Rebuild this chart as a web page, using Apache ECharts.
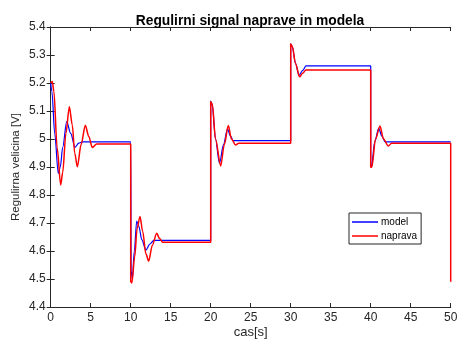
<!DOCTYPE html>
<html>
<head>
<meta charset="utf-8">
<script src="https://cdn.jsdelivr.net/npm/echarts@6/dist/echarts.min.js"></script>
<style>
  html, body { margin: 0; padding: 0; background: #fff; }
  #chart { width: 457px; height: 340px; }
</style>
</head>
<body>
<div id="chart"></div>
<script>
// casovne tocke in vrednosti - model
const modelTime = [
  0, 0.15, 0.5, 0.95, 1.2, 1.5, 2.0, 2.5, 3.04, 3.5, 4.0, 10.0,
  10.0, 10.05, 10.2, 10.45, 10.75, 11.0, 11.4, 11.9, 12.4, 12.9, 20.0,
  20.0, 20.2, 20.6, 21.1, 21.6, 22.1, 22.5, 22.8, 30.0,
  30.0, 30.2, 30.6, 31.05, 31.5, 31.9, 40.0,
  40.0, 40.1, 40.5, 41.0, 41.4, 41.8, 50.0
];
const modelValue = [
  5.20, 5.17, 5.02, 4.877, 4.90, 4.97, 5.062, 5.02, 4.970, 4.985, 4.990, 4.990,
  4.990, 4.53, 4.500, 4.60, 4.707, 4.69, 4.64, 4.603, 4.625, 4.638, 4.638,
  5.135, 5.12, 5.00, 4.913, 4.98, 5.035, 5.01, 4.994, 4.994,
  5.340, 5.33, 5.27, 5.228, 5.245, 5.261, 5.261,
  4.906, 4.90, 4.99, 5.038, 5.01, 4.990, 4.990
];

// casovne tocke in vrednosti - naprava
const napravaTime = [
  0, 0.2, 0.4, 0.8, 1.25, 1.5, 1.9, 2.33, 2.7, 3.0, 3.33, 3.8, 4.33, 4.75, 5.2, 5.75, 10.0,
  10.0, 10.15, 10.5, 10.8, 11.16, 11.5, 11.9, 12.25, 12.7, 13.25, 13.6, 14.0, 20.0,
  20.0, 20.2, 20.6, 21.25, 21.7, 22.2, 22.6, 23.1, 23.5, 30.0,
  30.0, 30.2, 30.6, 31.1, 31.5, 31.9, 40.0,
  40.0, 40.15, 40.6, 41.16, 41.6, 42.2, 42.6, 50.0, 50.0
];
const napravaValue = [
  5.20, 5.205, 5.17, 4.97, 4.836, 4.88, 5.02, 5.115, 5.05, 4.95, 4.901, 4.98, 5.049, 5.01, 4.970, 4.982, 4.982,
  4.490, 4.486, 4.58, 4.68, 4.723, 4.67, 4.59, 4.564, 4.62, 4.663, 4.645, 4.631, 4.631,
  5.133, 5.125, 5.00, 4.904, 4.98, 5.048, 5.00, 4.979, 4.985, 4.985,
  5.339, 5.33, 5.27, 5.222, 5.235, 5.246, 5.246,
  4.899, 4.90, 5.00, 5.046, 5.00, 4.975, 4.985, 4.985, 4.49
];

const xTicks = { min: 0, max: 50, interval: 5 };
const yTicks = { min: 4.4, max: 5.4, interval: 0.1 };

const pairs = (t, v) => t.map((x, i) => [x, v[i]]);

const axisColor = '#262626';
const font = 'Liberation Sans, Arial, sans-serif';

const chart = echarts.init(document.getElementById('chart'), null, { renderer: 'canvas' });

const baseX = {
  type: 'value',
  min: xTicks.min,
  max: xTicks.max,
  interval: xTicks.interval,
  axisLine: { show: true, lineStyle: { color: axisColor, width: 1 } },
  axisTick: { show: true, inside: true, length: 4, lineStyle: { color: axisColor } },
  splitLine: { show: false }
};
const baseY = {
  type: 'value',
  min: yTicks.min,
  max: yTicks.max,
  interval: yTicks.interval,
  axisLine: { show: true, lineStyle: { color: axisColor, width: 1 } },
  axisTick: { show: true, inside: true, length: 4, lineStyle: { color: axisColor } },
  splitLine: { show: false }
};

chart.setOption({
  animation: false,
  title: {
    text: 'Regulirni signal naprave in modela',
    left: 245,
    textAlign: 'center',
    top: 9,
    textStyle: { fontFamily: font, fontSize: 13.8, fontWeight: 'bold', color: '#000' }
  },
  grid: { left: 50.7, right: 6.3, top: 27, bottom: 33, outerBoundsMode: 'none', containLabel: false },
  legend: {
    data: [
      { name: 'model', icon: 'rect' },
      { name: 'naprava', icon: 'rect' }
    ],
    orient: 'vertical',
    left: 349,
    top: 213,
    itemWidth: 26,
    itemHeight: 1.5,
    itemGap: 4,
    padding: [4, 4, 3, 3],
    borderColor: axisColor,
    borderWidth: 1,
    backgroundColor: '#fff',
    textStyle: { fontFamily: font, fontSize: 10, color: '#000', padding: [0, 0, 0, -2] }
  },
  xAxis: [
    Object.assign({}, baseX, {
      position: 'bottom',
      name: 'cas[s]',
      nameLocation: 'middle',
      nameGap: 19,
      nameMoveOverlap: false,
      nameTextStyle: { fontFamily: font, fontSize: 13, color: axisColor },
      axisLabel: { fontFamily: font, fontSize: 12, color: axisColor, margin: 5 }
    }),
    Object.assign({}, baseX, { position: 'top', axisLabel: { show: false } })
  ],
  yAxis: [
    Object.assign({}, baseY, {
      position: 'left',
      name: 'Regulirna velicina [V]',
      nameLocation: 'middle',
      nameGap: 29,
      nameMoveOverlap: false,
      nameTextStyle: { fontFamily: font, fontSize: 11.5, color: axisColor },
      axisLabel: {
        fontFamily: font, fontSize: 12, color: axisColor, margin: 5,
        formatter: v => String(Math.round(v * 10) / 10)
      }
    }),
    Object.assign({}, baseY, { position: 'right', axisLabel: { show: false } })
  ],
  series: [
    {
      name: 'model',
      type: 'line',
      xAxisIndex: 0,
      yAxisIndex: 0,
      showSymbol: false,
      smooth: 0.3,
      smoothMonotone: 'x',
      color: '#0000ff',
      lineStyle: { width: 1.2, color: '#0000ff' },
      data: pairs(modelTime, modelValue)
    },
    {
      name: 'naprava',
      type: 'line',
      xAxisIndex: 0,
      yAxisIndex: 0,
      showSymbol: false,
      smooth: 0.3,
      smoothMonotone: 'x',
      color: '#ff0000',
      lineStyle: { width: 1.5, color: '#ff0000' },
      data: pairs(napravaTime, napravaValue)
    }
  ]
});
</script>
</body>
</html>
